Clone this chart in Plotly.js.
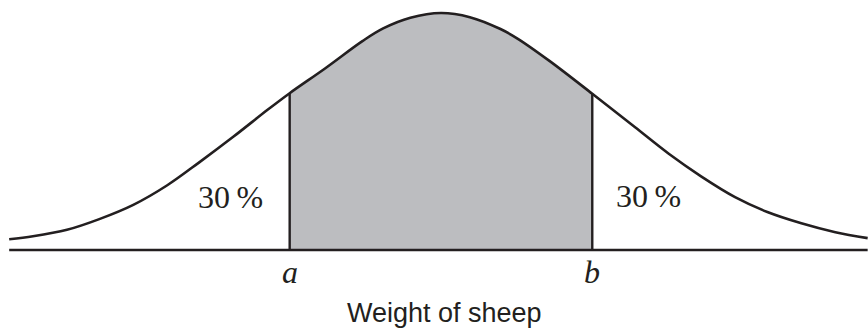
<!DOCTYPE html>
<html>
<head>
<meta charset="utf-8">
<script src="https://cdn.plot.ly/plotly-3.0.1.min.js"></script>
<style>
  html, body { margin: 0; padding: 0; background: #ffffff; }
  #chart { width: 868px; height: 331px; }
</style>
</head>
<body>
<div id="chart"></div>
<script>
// curve (x in standard units, y as density)
var curveX = [-2.54, -2.40, -2.20, -2.01, -1.81, -1.61, -1.42, -1.22, -1.02, -0.89,
              -0.68, -0.46, -0.34, -0.18, 0.00, 0.17, 0.35, 0.45, 0.64, 0.89,
              1.14, 1.34, 1.53, 1.73, 1.92, 2.12, 2.32, 2.51];
var curveY = [0.018, 0.023, 0.034, 0.052, 0.076, 0.109, 0.148, 0.191, 0.236, 0.264,
              0.306, 0.352, 0.373, 0.391, 0.399, 0.392, 0.372, 0.356, 0.318, 0.263,
              0.207, 0.162, 0.124, 0.089, 0.064, 0.045, 0.030, 0.020];

// the two cut points a and b
var cutNames = ['a', 'b'];
var cutX = [-0.89, 0.89];
var tailLabels = ['30\u2009%', '30\u2009%'];

var INK = '#231f20';
var GREY = '#bcbdc0';

function plotSheep(div) {
    let i;
    let shadeX = [], shadeY = [];
    let cutY = [];

    if (div === undefined) {
        console.log("no div");
        return;
    }

    // shaded part between a and b
    for (i = 0; i < curveX.length; i++) {
        if (curveX[i] >= cutX[0] && curveX[i] <= cutX[1]) {
            shadeX.push(curveX[i]);
            shadeY.push(curveY[i]);
        }
        if (curveX[i] === cutX[0] || curveX[i] === cutX[1]) {
            cutY.push(curveY[i]);
        }
    }

    var shade = {
        x: shadeX,
        y: shadeY,
        type: 'scatter',
        mode: 'lines',
        fill: 'tozeroy',
        fillcolor: GREY,
        line: {width: 0, shape: 'spline', smoothing: 1},
        hoverinfo: 'skip'};

    var curve = {
        x: curveX,
        y: curveY,
        type: 'scatter',
        mode: 'lines',
        line: {color: INK, width: 2.6, shape: 'spline', smoothing: 1}};

    var base = {
        x: [curveX[0], curveX[curveX.length - 1]],
        y: [0, 0],
        type: 'scatter',
        mode: 'lines',
        line: {color: INK, width: 2.6}};

    var cuts = {
        x: [cutX[0], cutX[0], null, cutX[1], cutX[1]],
        y: [0, cutY[0], null, 0, cutY[1]],
        type: 'scatter',
        mode: 'lines',
        line: {color: INK, width: 2.4}};

    var notes = [];
    // a and b under the axis
    for (i = 0; i < cutNames.length; i++) {
        notes.push({
            x: cutX[i], y: 0, xref: 'x', yref: 'y',
            text: '<i>' + cutNames[i] + '</i>',
            showarrow: false,
            yanchor: 'middle',
            yshift: -22,
            font: {family: 'Liberation Serif', size: 32, color: INK}});
    }
    // tail percentages
    notes.push({
        x: -1.24, y: 0.089, xref: 'x', yref: 'y',
        text: tailLabels[0], showarrow: false,
        font: {family: 'Liberation Serif', size: 32, color: INK}});
    notes.push({
        x: 1.22, y: 0.091, xref: 'x', yref: 'y',
        text: tailLabels[1], showarrow: false,
        font: {family: 'Liberation Serif', size: 32, color: INK}});
    // axis caption
    notes.push({
        x: 0.02, y: 0, xref: 'x', yref: 'y',
        text: 'Weight of sheep', showarrow: false,
        yanchor: 'middle',
        yshift: -63,
        font: {family: 'Liberation Sans', size: 27, color: INK}});

    var layout = {
        width: 868,
        height: 331,
        margin: {l: 0, r: 0, t: 0, b: 0},
        paper_bgcolor: '#ffffff',
        plot_bgcolor: '#ffffff',
        showlegend: false,
        xaxis: {range: [-2.594, 2.512], visible: false, fixedrange: true},
        yaxis: {range: [-0.1364, 0.4209], visible: false, fixedrange: true},
        annotations: notes};

    Plotly.newPlot(div, [shade, curve, base, cuts], layout, {displayModeBar: false, staticPlot: true});
}

plotSheep('chart');
</script>
</body>
</html>
